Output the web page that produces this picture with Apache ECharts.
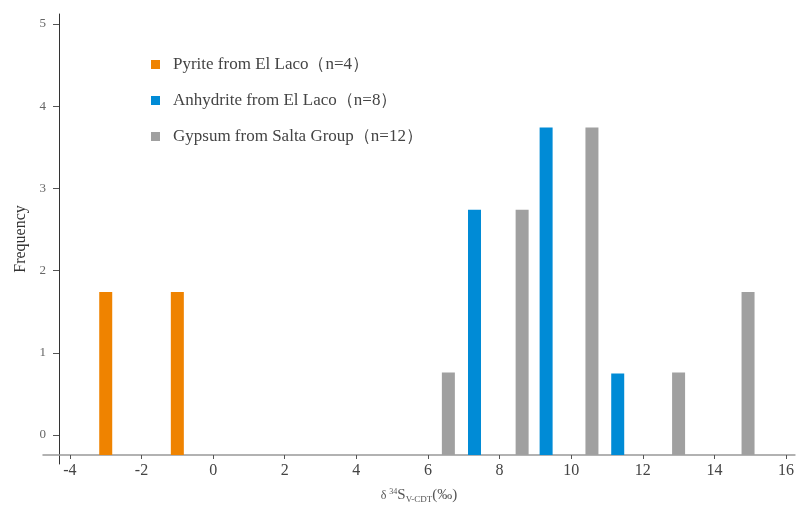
<!DOCTYPE html>
<html>
<head>
<meta charset="utf-8">
<script src="https://cdn.jsdelivr.net/npm/echarts@6/dist/echarts.min.js"></script>
<style>
  html, body { margin: 0; padding: 0; background: #fff; }
  #chart { width: 797px; height: 509px; }
</style>
</head>
<body>
<div id="chart"></div>
<script>
// values (x = δ34S, y = frequency on the labelled axis)
var pyriteX = [-3, -1];
var pyriteY = [1.74, 1.74];
var anhydriteX = [7.3, 9.3, 11.3];
var anhydriteY = [2.74, 3.74, 0.75];
var gypsumX = [6.57, 8.63, 10.58, 13.0, 14.94];
var gypsumY = [0.76, 2.74, 3.74, 0.76, 1.74];

var xTicks = [-4, -2, 0, 2, 4, 6, 8, 10, 12, 14, 16];
var yTicks = [0, 1, 2, 3, 4, 5];
var seriesNames = ['Pyrite from El Laco（n=4）', 'Anhydrite from El Laco（n=8）', 'Gypsum from Salta Group（n=12）'];

// the bars stand on the x axis line, which sits below y = 0
var baseline = -0.243;
var barWidth = 13;
var serif = '"Liberation Serif", "DejaVu Serif", serif';

function pairs(xs, ys) {
  return xs.map(function (x, i) { return [x, ys[i]]; });
}

function renderBar(params, api) {
  var top = api.coord([api.value(0), api.value(1)]);
  var bottom = api.coord([api.value(0), baseline]);
  return {
    type: 'rect',
    shape: {
      x: top[0] - barWidth / 2,
      y: top[1],
      width: barWidth,
      height: bottom[1] - top[1]
    },
    style: { fill: api.visual('color') }
  };
}

function barSeries(name, data, color) {
  return {
    name: name,
    type: 'custom',
    renderItem: renderBar,
    itemStyle: { color: color },
    encode: { x: 0, y: 1 },
    data: data,
    silent: true
  };
}

var chart = echarts.init(document.getElementById('chart'));
chart.setOption({
  backgroundColor: '#fff',
  animation: false,
  legend: {
    orient: 'vertical',
    left: 146,
    top: 51,
    icon: 'rect',
    itemWidth: 9,
    itemHeight: 9,
    itemGap: 19,
    textStyle: {
      fontFamily: serif,
      fontSize: 17,
      color: '#444',
      padding: [0, 0, 0, 8]
    },
    data: seriesNames
  },
  grid: {
    left: 43,
    right: 0,
    top: 14,
    bottom: 44
  },
  xAxis: {
    type: 'value',
    min: -4.752,
    max: 16.25,
    offset: -9,
    name: '{d|δ }{sup|34}{s|S}{sub|V-CDT}{s|(‰)}',
    nameLocation: 'middle',
    nameGap: 32,
    nameTextStyle: {
      rich: {
        d: { fontFamily: serif, fontSize: 12, color: '#555' },
        s: { fontFamily: serif, fontSize: 15, color: '#555' },
        sup: { fontFamily: serif, fontSize: 8, color: '#555', padding: [0, 0, 8, 0] },
        sub: { fontFamily: serif, fontSize: 9, color: '#555', padding: [8, 0, 0, 0] }
      }
    },
    splitLine: { show: false },
    axisLine: { onZero: false, lineStyle: { color: '#999', width: 1.5 } },
    axisTick: {
      customValues: xTicks,
      length: 4,
      lineStyle: { color: '#555' }
    },
    axisLabel: {
      customValues: xTicks,
      margin: 8,
      fontFamily: serif,
      fontSize: 16,
      color: '#444'
    }
  },
  yAxis: {
    type: 'value',
    min: -0.352,
    max: 5.121,
    offset: -16,
    name: 'Frequency',
    nameLocation: 'middle',
    nameGap: 23,
    nameTextStyle: { fontFamily: serif, fontSize: 16, color: '#333' },
    splitLine: { show: false },
    axisLine: { show: true, onZero: false, lineStyle: { color: '#333', width: 1 } },
    axisTick: {
      show: true,
      customValues: yTicks,
      length: 6,
      lineStyle: { color: '#555' }
    },
    axisLabel: {
      customValues: yTicks,
      margin: 13,
      fontFamily: serif,
      fontSize: 13,
      color: '#666'
    }
  },
  series: [
    barSeries(seriesNames[0], pairs(pyriteX, pyriteY), '#ef8300'),
    barSeries(seriesNames[1], pairs(anhydriteX, anhydriteY), '#008bd6'),
    barSeries(seriesNames[2], pairs(gypsumX, gypsumY), '#a0a0a0')
  ]
});
</script>
</body>
</html>
